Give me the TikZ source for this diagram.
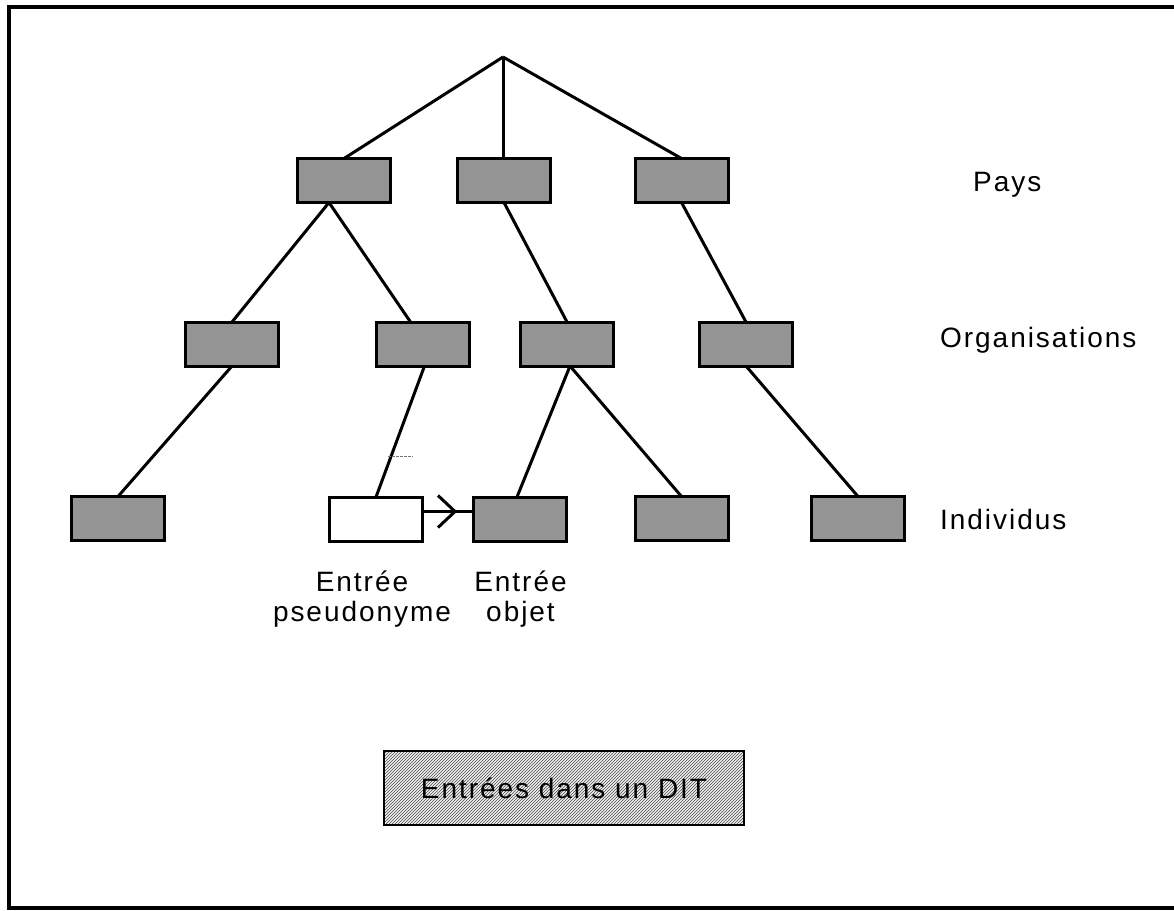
\documentclass[tikz,border=0pt]{standalone}
\usepackage{fontspec}
\setmainfont{Liberation Sans}[LetterSpace=7]
\usetikzlibrary{patterns,arrows.meta,decorations.markings}

\begin{document}
\begin{tikzpicture}[x=1pt,y=-1pt,
  entry/.style={draw, line width=3pt, fill=black!42, minimum width=93pt,
    minimum height=44pt, inner sep=0pt, outer sep=0pt},
  aliasentry/.style={entry, fill=white},
  link/.style={line width=3pt},
  level/.style={anchor=base west, inner sep=0pt, font=\fontsize{28}{30}\selectfont},
  entrylabel/.style={anchor=north, inner sep=0pt, align=center,
    font=\fontsize{28}{30}\selectfont},
  titlebox/.style={draw, line width=2.8pt, minimum width=360pt, minimum height=74pt,
    inner sep=0pt, preaction={fill=black!6}, pattern=north east lines,
    pattern color=black!70, font=\fontsize{28}{30}\selectfont}]

\useasboundingbox (0,0) rectangle (1174,910);
\fill[white] (0,0) rectangle (1174,910);

% outer frame
\draw[line width=4.5pt] (1180,7) -- (9,7) -- (9,908) -- (1180,908);

% root of the tree
\coordinate (root) at (503,57);

% countries
\node[entry] (A) at (344,180.5) {};
\node[entry] (B) at (504,180.5) {};
\node[entry] (C) at (681.5,180.5) {};

% organisations
\node[entry] (D) at (232,344) {};
\node[entry] (E) at (422.5,344) {};
\node[entry] (F) at (567,344) {};
\node[entry] (G) at (746,344) {};

% individuals
\node[entry] (H) at (118,518.5) {};
\node[aliasentry] (I) at (376,519) {};
\node[entry] (J) at (520,519) {};
\node[entry] (K) at (681.5,518.5) {};
\node[entry] (L) at (858,518.5) {};

% tree links
\draw[link] (root) -- (A.north);
\draw[link] (root) -- (root |- B.north);
\draw[link] (root) -- (C.north);
\draw[link] ([xshift=-15pt]A.south) -- (D.north);
\draw[link] ([xshift=-15pt]A.south) -- ([xshift=-12pt]E.north);
\draw[link] (B.south) -- (F.north);
\draw[link] (C.south) -- (G.north);
\draw[link] (D.south) -- (H.north);
\draw[link] ([xshift=2pt]E.south) -- (I.north);
\draw[link] ([xshift=3pt]F.south) -- ([xshift=-3pt]J.north);
\draw[link] ([xshift=3pt]F.south) -- (K.north);
\draw[link] (G.south) -- (L.north);

% alias pointing to its object
\draw[link, line width=2.6pt, postaction={decorate},
  decoration={markings, mark=at position 0.68 with
    {\arrow{Straight Barb[length=17pt, width=32pt, line width=3pt]}}}]
  ([yshift=7.5pt]I.east) -- ([yshift=7.5pt]J.west);

% small stray tick
\coordinate (tickA) at (388,456);
\coordinate (tickB) at (413,456);
\draw[black!55, line width=0.7pt, dash pattern=on 2.5pt off 1.5pt] (tickA) -- (tickB);

% level names
\node[level] (pays) at (973,191) {Pays};
\node[level] (orgs) at (940,347) {Organisations};
\node[level] (indiv) at (940,529) {Individus};

% entry kinds
\node[entrylabel] (lpseudo) at (362,571) {Entrée\\pseudonyme};
\node[entrylabel] (lobjet) at (520.5,571) {Entrée\\objet};

% title
\node[titlebox] (title) at (564,788) {Entrées dans un DIT};

\end{tikzpicture}
\end{document}
